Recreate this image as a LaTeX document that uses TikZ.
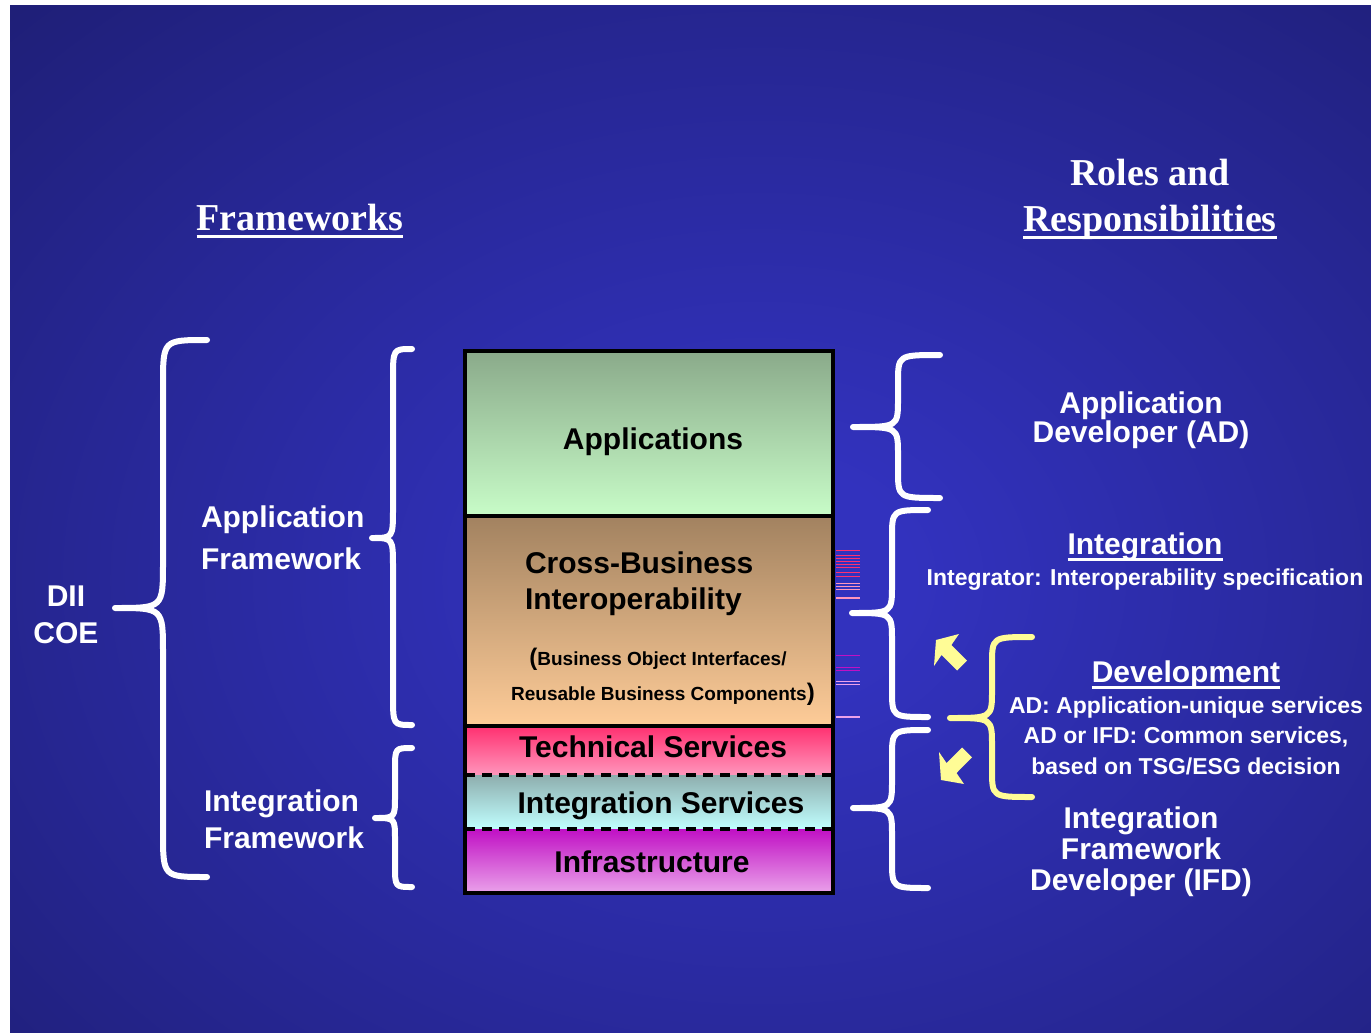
\documentclass[tikz,border=0pt]{standalone}
\usepackage{fontspec}
\setmainfont{Liberation Sans}
\newfontfamily\headfont{Liberation Serif}
\usepackage{tikz}
\usetikzlibrary{calc}

\definecolor{bgin}{RGB}{50,50,190}
\definecolor{bgout}{RGB}{25,25,98}
\definecolor{apptop}{RGB}{138,170,138}
\definecolor{appbot}{RGB}{200,252,200}
\definecolor{crosstop}{RGB}{162,130,96}
\definecolor{crossbot}{RGB}{254,204,152}
\definecolor{techtop}{RGB}{255,48,112}
\definecolor{techbot}{RGB}{255,150,188}
\definecolor{intstop}{RGB}{142,174,174}
\definecolor{intsbot}{RGB}{192,255,255}
\definecolor{infratop}{RGB}{192,16,196}
\definecolor{infrabot}{RGB}{234,162,234}
\definecolor{devyellow}{RGB}{255,252,150}

\pgfdeclareradialshading{backglow}{\pgfpoint{0bp}{0bp}}{color(0bp)=(bgin); color(5bp)=(bgin); color(44bp)=(bgout); color(50bp)=(bgout)}

% curly brace: [style]{x end}{x stem}{x tip}{y top}{y tip}{y bottom}{radius}
\newcommand{\curly}[8][]{%
\draw[brace,#1] (#2,#5) .. controls (#3,#5) .. (#3,#5+#8) -- (#3,#6-#8) .. controls (#3,#6) .. (#4,#6) .. controls (#3,#6) .. (#3,#6+#8) -- (#3,#7-#8) .. controls (#3,#7) .. (#2,#7);}

\begin{document}
\begin{tikzpicture}[x=0.5pt,y=-0.5pt,every node/.style={inner sep=0pt,outer sep=0pt,text=white,font=\fontsize{15}{18}\selectfont\bfseries}]
\tikzstyle{brace}=[white,line width=3pt,line cap=round,line join=round]
\tikzstyle{inlayer}=[text=black]
\tikzstyle{small}=[font=\fontsize{11.5}{14}\selectfont\bfseries]
\tikzstyle{tiny}=[font=\fontsize{9.5}{12}\selectfont\bfseries]
\tikzstyle{heading}=[font=\fontsize{19}{22}\selectfont\headfont\bfseries]
\tikzstyle{uline}=[white,line width=1.5pt]
\tikzstyle{blockarrow}=[fill=devyellow,draw=none]
\tikzstyle{sep}=[black,line width=2pt]

\useasboundingbox (0,0) rectangle (1371,1033);
\fill[white] (0,0) rectangle (1371,1033);
\begin{scope}
\clip (10,5) rectangle (1371,1033);
\shade[shading=backglow] (0,0) rectangle (1520,1160);
\end{scope}

% headings
\node[heading,anchor=base] (frames) at (300,230) {Frameworks};
\draw[uline] ([yshift=-3pt]frames.base west) -- ([yshift=-3pt]frames.base east);
\node[heading,anchor=base] (roles) at (1150,185) {Roles and};
\node[heading,anchor=base] (resp) at (1150,231) {Responsibilities};
\draw[uline] ([yshift=-3pt]resp.base west) -- ([yshift=-3pt]resp.base east);

% the layer stack
\shade[top color=apptop,bottom color=appbot] (465,351) rectangle (833,516);
\shade[top color=crosstop,bottom color=crossbot] (465,516) rectangle (833,726);
\shade[top color=techtop,bottom color=techbot] (465,726) rectangle (833,775);
\shade[top color=intstop,bottom color=intsbot] (465,775) rectangle (833,829);
\shade[top color=infratop,bottom color=infrabot] (465,829) rectangle (833,893);
\draw[sep] (465,516) -- (833,516);
\draw[sep] (465,726) -- (833,726);
\draw[sep,dash pattern=on 5pt off 3.5pt] (465,775) -- (833,775);
\draw[sep,dash pattern=on 5pt off 3.5pt] (465,829) -- (833,829);
\draw[sep] (465,351) rectangle (833,893);

\node[inlayer,anchor=base] (apps) at (653,449) {Applications};
\node[inlayer,anchor=base west] (cross) at (525,573) {Cross-Business};
\node[inlayer,anchor=base west] (interop) at (525,609) {Interoperability};
\node[inlayer,tiny,anchor=base] (boi) at (658,665) {{\fontsize{12}{12}\selectfont(}Business Object Interfaces/};
\node[inlayer,tiny,anchor=base] (rbc) at (663,700) {Reusable Business Components{\fontsize{12}{12}\selectfont)}};
\node[inlayer,anchor=base] (tech) at (653,757) {Technical Services};
\node[inlayer,anchor=base] (ints) at (661,813) {Integration Services};
\node[inlayer,anchor=base] (infra) at (652,872) {Infrastructure};

% stray stripes right of the stack
\foreach \yy/\cc in {550/techtop,555/techtop,558/techtop,561/techtop,564/techtop,567/techtop,572/techtop,576/techtop,583/techbot,586/techbot,589/techbot,655/infratop,667/infratop,670/infratop,681/infrabot,684/infrabot}
  \draw[\cc,line width=0.5pt] (836,\yy) -- (860,\yy);
\draw[techbot,line width=1pt] (836,598) -- (860,598);
\draw[infrabot,line width=1pt] (836,717) -- (860,717);

% left braces and labels
\curly{207}{163}{115}{340}{608}{877}{45}
\curly{412}{393}{372}{349}{538}{725}{30}
\curly{412}{395}{375}{748}{818}{887}{22}

\node[anchor=base] (dii) at (66,606) {DII};
\node[anchor=base] (coe) at (66,643) {COE};
\node[anchor=base west] (appfw1) at (201,527) {Application};
\node[anchor=base west] (appfw2) at (201,569) {Framework};
\node[anchor=base west] (intfw1) at (204,811) {Integration};
\node[anchor=base west] (intfw2) at (204,848) {Framework};

% right braces and labels
\curly{940}{898}{853}{355}{427}{498}{28}
\curly{928}{892}{852}{510}{613}{717}{28}
\curly{928}{892}{853}{730}{808}{888}{28}
\curly[devyellow]{1032}{992}{950}{637}{718}{797}{28}

\node[anchor=base] (ad1) at (1141,413) {Application};
\node[anchor=base] (ad2) at (1141,442) {Developer (AD)};

\node[anchor=base] (integ) at (1145,554) {Integration};
\draw[uline] ([yshift=-2.5pt]integ.base west) -- ([yshift=-2.5pt]integ.base east);
\node[small,anchor=base] (integr) at (1145,585) {Integrator: Interoperability specification};

\node[anchor=base] (devel) at (1186,682) {Development};
\draw[uline] ([yshift=-2.5pt]devel.base west) -- ([yshift=-2.5pt]devel.base east);
\node[small,anchor=base] (dev1) at (1186,713) {AD: Application-unique services};
\node[small,anchor=base] (dev2) at (1186,743) {AD or IFD: Common services,};
\node[small,anchor=base] (dev3) at (1186,774) {based on TSG/ESG decision};

\node[anchor=base] (ifd1) at (1141,828) {Integration};
\node[anchor=base] (ifd2) at (1141,859) {Framework};
\node[anchor=base] (ifd3) at (1141,890) {Developer (IFD)};

% yellow block arrows
\fill[blockarrow] (936,640) -- (959,634) -- (951.4,645) -- (967,660.6) -- (957,670.5) -- (941.5,655) -- (934,666) -- cycle;
\fill[blockarrow] (941,780) -- (939,752) -- (946.5,763) -- (962,747.5) -- (972,757.3) -- (956.5,773) -- (964,784) -- cycle;
\end{tikzpicture}
\end{document}
